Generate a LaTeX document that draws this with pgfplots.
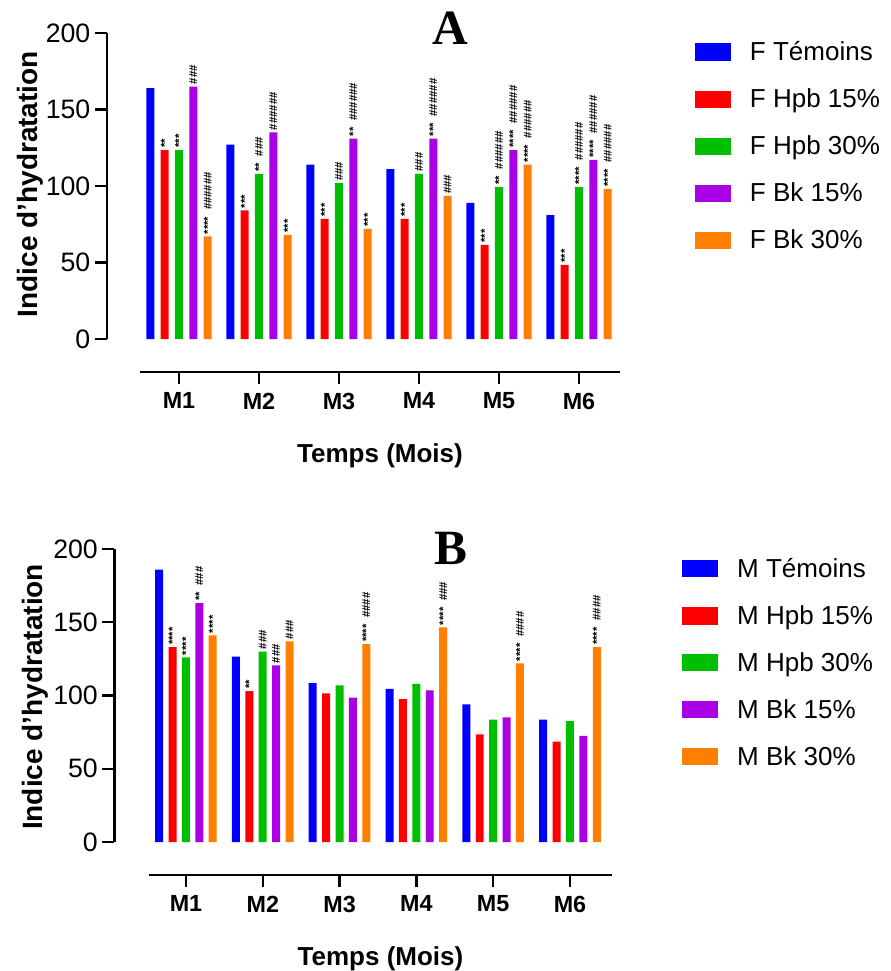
\documentclass[border=0pt]{standalone}
\usepackage{pgfplots}
\pgfplotsset{compat=1.18}
\usepackage{fontspec}
\setmainfont{Liberation Sans}
\newfontfamily\serifbf{Liberation Serif}

\definecolor{cT}{RGB}{0,0,255}
\definecolor{cHa}{RGB}{255,0,0}
\definecolor{cHb}{RGB}{0,190,0}
\definecolor{cBa}{RGB}{170,0,230}
\definecolor{cBb}{RGB}{255,128,0}

\newcommand{\gp}{\hspace{5pt}}

\pgfplotsset{
 swatch/.style={legend image code/.code={\fill[##1] (0pt,-6.5pt) rectangle (27pt,6.5pt); \path (41pt,0pt);}},
 barax/.style={
  scale only axis, axis x line=none, axis y line*=left, ybar,
  ymin=0, ymax=200, ytick={0,50,...,200},
  clip=false, tick align=outside, major tick length=9pt,
  axis line style={line width=1.8pt, -}, major tick style={line width=1.8pt, black},
  yticklabel style={font=\fontsize{20}{20}\selectfont},
  /pgf/number format/assume math mode=true,
  ylabel style={font=\fontsize{21}{21}\selectfont\bfseries},
  point meta=explicit symbolic, nodes near coords, nodes near coords align={horizontal},
  every node near coord/.append style={rotate=90, anchor=west, font=\fontsize{8.5}{8.5}\selectfont\bfseries, inner sep=1.5pt, text=black},
  legend cell align=left,
  legend style={draw=none, fill=none, inner sep=0pt, row sep=18.6pt, font=\fontsize{19.5}{19.5}\selectfont, nodes={inner sep=0.5pt}},
 },
 xax/.style={
  scale only axis, height=1pt, ymin=0, ymax=1, axis y line=none, axis x line*=bottom,
  xtick={0,...,5}, xticklabels={M1,M2,M3,M4,M5,M6},
  tick align=outside, major tick length=9pt,
  axis line style={line width=1.8pt, -}, major tick style={line width=1.8pt, black},
  xticklabel style={font=\fontsize{17.5}{17.5}\selectfont\bfseries, yshift=-3pt},
  xlabel={Temps (Mois)},
  xlabel style={font=\fontsize{19.5}{19.5}\selectfont\bfseries, at={(axis description cs:0.5,0)}, anchor=center, yshift=-63pt},
 },
}

\begin{document}
\begin{tikzpicture}
\useasboundingbox (0pt,0pt) rectangle (668.25pt,-728.25pt);

% ---------------- Panel A ----------------
\begin{axis}[barax, at={(80.25pt,-254.25pt)}, anchor=south west,
  width=384.75pt, height=229.5pt, xmin=-0.9, xmax=5.5125, bar width=0.1,
  ylabel={Indice d'hydratation},
  ylabel style={at={(axis description cs:-0.15,0.506)}, anchor=center},
  legend style={at={(axis description cs:1.145,0.975)}, anchor=north west}]
\addplot[swatch, fill=cT, draw=none, bar shift=-0.358] coordinates
 {(0,164)[{}] (1,127)[{}] (2,114)[{}] (3,111)[{}] (4,89)[{}] (5,81)[{}]};
\addplot[swatch, fill=cHa, draw=none, bar shift=-0.179] coordinates
 {(0,123.5)[{**}] (1,84)[{***}] (2,78.5)[{***}] (3,78.5)[{***}] (4,61.5)[{***}] (5,48.5)[{***}]};
\addplot[swatch, fill=cHb, draw=none, bar shift=0] coordinates
 {(0,123.5)[{***}] (1,108)[{**\gp\#\#\#}] (2,102)[{\#\#\#}] (3,108)[{\#\#\#}] (4,99.5)[{**\gp\#\#\#\#\#\#}] (5,99.5)[{****\gp\#\#\#\#\#\#}]};
\addplot[swatch, fill=cBa, draw=none, bar shift=0.179] coordinates
 {(0,165)[{\#\#\#}] (1,135)[{\#\#\#\#\#\#}] (2,131)[{**\gp\#\#\#\#\#\#}] (3,131)[{***\gp\#\#\#\#\#\#}] (4,123.5)[{****\gp\#\#\#\#\#\#}] (5,117)[{****\gp\#\#\#\#\#\#}]};
\addplot[swatch, fill=cBb, draw=none, bar shift=0.358] coordinates
 {(0,67)[{****\gp\#\#\#\#\#\#}] (1,68)[{***}] (2,72)[{***}] (3,93.5)[{\#\#\#}] (4,114)[{****\gp\#\#\#\#\#\#}] (5,98)[{****\gp\#\#\#\#\#\#}]};
\legend{F Témoins, F Hpb 15\%, F Hpb 30\%, F Bk 15\%, F Bk 30\%}
\end{axis}
\begin{axis}[xax, at={(105pt,-279pt)}, anchor=south west, width=360pt, xmin=-0.4875, xmax=5.5125]
\addplot[draw=none] coordinates {(0,0)};
\end{axis}

% ---------------- Panel B ----------------
\begin{axis}[barax, at={(85.875pt,-631.5pt)}, anchor=south west,
  width=373.1pt, height=219.75pt, xmin=-0.93, xmax=5.547, bar width=0.104,
  ylabel={Indice d'hydratation},
  ylabel style={at={(axis description cs:-0.16,0.495)}, anchor=center},
  legend style={at={(axis description cs:1.140,0.972)}, anchor=north west}]
\addplot[swatch, fill=cT, draw=none, bar shift=-0.349] coordinates
 {(0,186)[{}] (1,126.5)[{}] (2,108.5)[{}] (3,104.5)[{}] (4,94)[{}] (5,83.5)[{}]};
\addplot[swatch, fill=cHa, draw=none, bar shift=-0.1745] coordinates
 {(0,133)[{****}] (1,103)[{**}] (2,101.5)[{}] (3,97.5)[{}] (4,73.5)[{}] (5,68.5)[{}]};
\addplot[swatch, fill=cHb, draw=none, bar shift=0] coordinates
 {(0,126)[{****}] (1,130)[{\#\#\#}] (2,107)[{}] (3,108)[{}] (4,83.5)[{}] (5,82.5)[{}]};
\addplot[swatch, fill=cBa, draw=none, bar shift=0.1745] coordinates
 {(0,163)[{**\gp\#\#\#}] (1,120.5)[{\#\#\#}] (2,98.5)[{}] (3,103.5)[{}] (4,85)[{}] (5,72.5)[{}]};
\addplot[swatch, fill=cBb, draw=none, bar shift=0.349] coordinates
 {(0,141)[{****}] (1,137)[{\#\#\#}] (2,135)[{****\gp\#\#\#\#}] (3,146.5)[{****\gp\#\#\#}] (4,122)[{****\gp\#\#\#\#}] (5,133)[{****\gp\#\#\#\#}]};
\legend{M Témoins, M Hpb 15\%, M Hpb 30\%, M Bk 15\%, M Bk 30\%}
\end{axis}
\begin{axis}[xax, at={(111.75pt,-656.25pt)}, anchor=south west, width=347.25pt, xmin=-0.482, xmax=5.547]
\addplot[draw=none] coordinates {(0,0)};
\end{axis}

\node[font=\fontsize{37}{37}\selectfont\serifbf\bfseries] at (337.5pt,-21.5pt) {A};
\node[font=\fontsize{37}{37}\selectfont\serifbf\bfseries] at (338.25pt,-411pt) {B};
\end{tikzpicture}
\end{document}
